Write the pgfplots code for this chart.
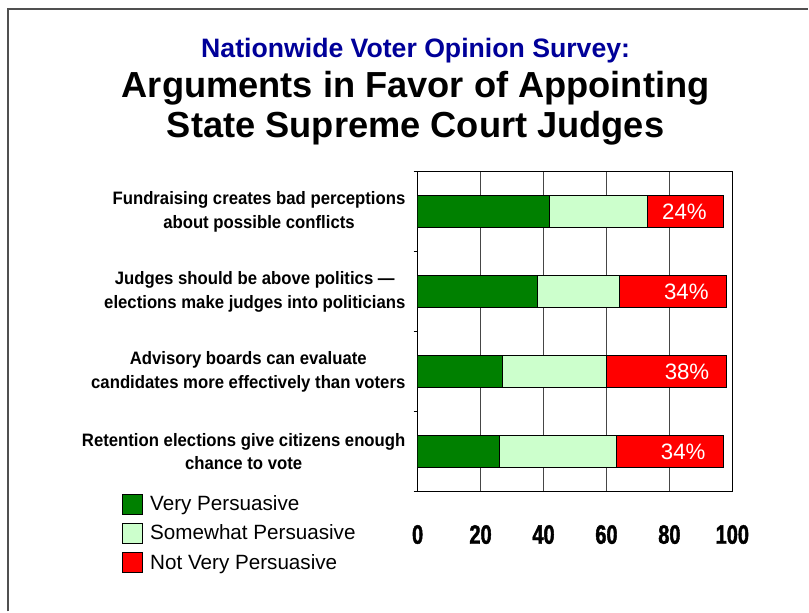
\documentclass[border=0pt]{standalone}
\usepackage{pgfplots}
\pgfplotsset{compat=1.18}
\usepackage{pgfplotstable}
\usepackage{fontspec}
\setmainfont{Liberation Sans}
\newfontfamily\tickfont[FakeStretch=0.75,FakeBold=1.5]{Liberation Sans Bold}
\newfontfamily\catfont[FakeStretch=0.93,Ligatures=TeX]{Liberation Sans Bold}
\definecolor{dgreen}{RGB}{0,128,0}
\definecolor{lgreen}{RGB}{204,255,204}
\definecolor{navy}{RGB}{0,0,153}
\definecolor{framec}{RGB}{80,80,80}
\definecolor{gridc}{RGB}{70,70,70}
\def\px{0.75pt}

\pgfplotstableread{
cat very some notv
0 42 31 24
1 38 26 34
2 27 33 38
3 26 37 34
}\data

\begin{document}
\begin{tikzpicture}
\path (0,0) rectangle ({809*\px},{-612*\px});
\draw[framec, line width=1.1pt] ({8*\px},{-612*\px}) -- ({8*\px},{-9*\px}) -- ({809*\px},{-9*\px});
\node[navy, font=\bfseries\fontsize{20}{24}\selectfont, anchor=base, inner sep=0pt] at ({416*\px},{-58*\px}) {Nationwide Voter Opinion Survey:};
\node[font=\bfseries\fontsize{27.2}{30}\selectfont, anchor=base, inner sep=0pt] at ({416*\px},{-98*\px}) {Arguments in Favor of Appointing};
\node[font=\bfseries\fontsize{27.2}{30}\selectfont, anchor=base, inner sep=0pt] at ({416*\px},{-138*\px}) {State Supreme Court Judges};
\begin{axis}[
  at={({418*\px},{-492*\px})}, anchor=south west,
  scale only axis, width=236.25pt, height=240pt,
  xbar stacked, bar width=0.4,
  xmin=0, xmax=100, ymin=-0.5, ymax=3.5, y dir=reverse,
  xtick={0,20,40,60,80,100},
  xmajorgrids, grid style={draw=gridc, line width=0.75pt},
  axis line style={draw=black, line width=0.75pt},
  x tick style={draw=none},
  y tick style={draw=black, line width=0.75pt},
  tick align=outside, major tick length=3pt, ytick pos=left,
  ytick={-0.5,0.5,1.5,2.5,3.5}, yticklabels={},
  extra y ticks={0,1,2,3},
  extra y tick labels={{Fundraising creates bad perceptions\\about possible conflicts},
    {Judges should be above politics \textemdash\\elections make judges into politicians},
    {Advisory boards can evaluate\\candidates more effectively than voters},
    {Retention elections give citizens enough\\chance to vote}},
  extra y tick style={major tick length=0pt, y tick style={draw=none}},
  yticklabel style={font=\catfont\fontsize{13.5}{17.6}\selectfont, align=center, inner sep=0pt, xshift=-9pt},
  /pgf/number format/assume math mode=true,
  xticklabel style={font=\tickfont\fontsize{20}{20}\selectfont, inner sep=0pt, yshift=-22pt},
  legend style={at={(-0.94,-0.006)}, anchor=north west, draw=none, fill=none,
    inner sep=0pt, row sep=6.5pt, column sep=5.6pt,
    font=\fontsize{15.5}{17}\selectfont, nodes={inner sep=0pt}},
  legend cell align=left,
  legend image code/.code={\draw[#1, draw=black, line width=0.5pt] (0pt,-7.5pt) rectangle (15pt,7.5pt);},
  after end axis/.code={
    \node[text=white, font=\fontsize{16.7}{20}\selectfont] at (axis cs:84.8,0) {24\%};
    \node[text=white, font=\fontsize{16.7}{20}\selectfont] at (axis cs:85.4,1) {34\%};
    \node[text=white, font=\fontsize{16.7}{20}\selectfont] at (axis cs:85.6,2) {38\%};
    \node[text=white, font=\fontsize{16.7}{20}\selectfont] at (axis cs:84.4,3) {34\%};
  },
]
\addplot[fill=dgreen, draw=black, line width=0.5pt] table[x=very, y=cat]{\data};
\addlegendentry{Very Persuasive}
\addplot[fill=lgreen, draw=black, line width=0.5pt] table[x=some, y=cat]{\data};
\addlegendentry{Somewhat Persuasive}
\addplot[fill=red, draw=black, line width=0.5pt] table[x=notv, y=cat]{\data};
\addlegendentry{Not Very Persuasive}
\end{axis}
\end{tikzpicture}
\end{document}
